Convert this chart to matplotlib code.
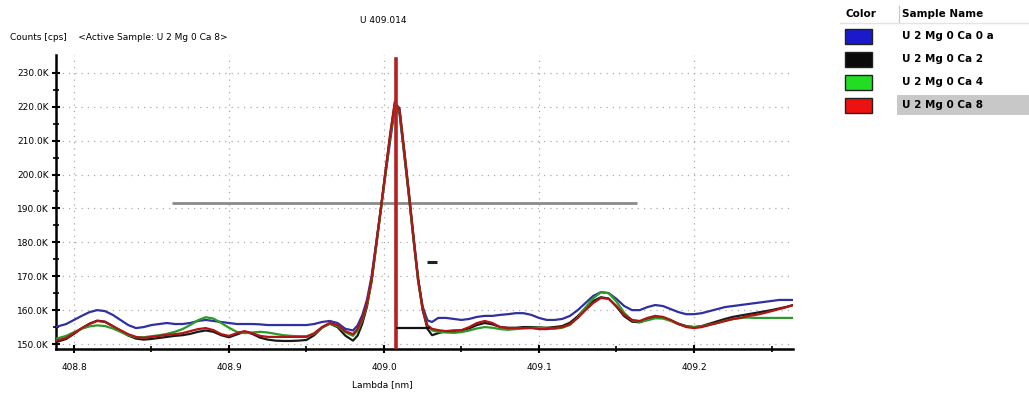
import numpy as np
import matplotlib.pyplot as plt
from matplotlib.patches import Rectangle

# wavelength grid (nm): baseline, peak region, baseline
lam = np.concatenate([[408.788], np.arange(408.795, 408.9801, 0.005),
                      np.arange(408.983, 409.0311, 0.003),
                      np.arange(409.035, 409.2601, 0.005), [409.264]])

# counts in K cps
blue = [155.0, 155.9, 157.1, 158.3, 159.4, 160.0, 159.7, 158.6, 157.1, 155.6,
        154.7, 155.0, 155.6, 155.9, 156.2, 155.9, 155.9, 156.2, 156.8, 157.1,
        156.8, 156.5, 156.2, 155.9, 155.9, 155.9, 155.8, 155.6, 155.6, 155.6,
        155.6, 155.6, 155.6, 155.9, 156.5, 156.8, 156.2, 154.5, 154.0,
        155.5, 158.5, 163, 170, 180, 190, 200, 210, 219.5, 218, 206, 194, 181, 169, 161, 157, 156.5,
        157.7, 157.7, 157.4, 157.1, 157.4, 158.0, 158.3, 158.3, 158.6, 158.8,
        159.1, 159.1, 158.6, 157.7, 157.1, 157.1, 157.4, 158.3, 160.0, 162.1,
        164.2, 165.3, 165.0, 163.3, 161.2, 160.0, 160.0, 160.9, 161.5, 161.2,
        160.3, 159.4, 158.8, 158.8, 159.1, 159.7, 160.3, 160.9, 161.2, 161.5,
        161.8, 162.1, 162.4, 162.7, 163.0, 163.0, 163.0]

black = [150.5, 151.5, 153.0, 154.6, 156.0, 156.9, 156.6, 155.3, 153.8, 152.5,
         151.6, 151.3, 151.5, 151.8, 152.1, 152.4, 152.6, 153.0, 153.6, 154.0,
         153.6, 152.6, 152.0, 152.8, 153.6, 153.0, 151.9, 151.3, 151.0, 150.9,
         150.9, 151.0, 151.2, 152.6, 154.8, 156.0, 155.0, 152.5, 151.0,
         152.5, 156.0, 161.0, 168.5, 179, 190, 201, 211.5, 221, 219.5, 207.5, 195, 182, 169.5, 160, 154.5, 152.6,
         153.2, 153.8, 154.0, 154.0, 154.6, 155.6, 156.2, 155.8, 155.0, 154.8,
         154.8, 155.0, 155.0, 154.9, 154.8, 155.0, 155.3, 156.3, 158.2, 160.6,
         162.7, 163.8, 163.4, 161.0, 158.2, 156.6, 156.4, 157.2, 157.9, 157.8,
         157.0, 156.0, 155.3, 155.0, 155.3, 156.0, 156.7, 157.4, 158.0, 158.4,
         158.8, 159.2, 159.6, 160.0, 160.5, 161.0, 161.5]

green = [151.5, 152.4, 153.5, 154.5, 155.2, 155.5, 155.3, 154.6, 153.6, 152.6,
         152.0, 152.0, 152.3, 152.6, 153.0, 153.6, 154.4, 155.6, 157.0, 157.9,
         157.5, 156.2, 154.8, 153.6, 153.2, 153.4, 153.6, 153.4, 153.0, 152.6,
         152.4, 152.3, 152.3, 153.0, 154.8, 156.0, 155.3, 153.5, 152.4,
         154.0, 157.0, 161.5, 168.5, 179, 189.5, 200.5, 211, 220.5, 218.5, 206.5, 194, 181, 168.5, 160, 155.5, 154.0,
         153.6, 153.4, 153.3, 153.5, 154.0, 154.6, 155.0, 154.8, 154.4, 154.2,
         154.4, 154.6, 154.8, 154.8, 154.6, 154.5, 154.8, 155.6, 157.8, 160.8,
         163.5, 165.3, 165.0, 162.5, 159.2, 157.0, 156.5, 157.0, 157.6, 157.5,
         156.8, 155.8, 155.2, 155.0, 155.2, 155.7, 156.2, 156.8, 157.3, 157.7,
         157.8, 157.7, 157.7, 157.7, 157.7, 157.7, 157.7]

red = [150.9, 151.8, 153.2, 154.7, 155.9, 156.8, 156.5, 155.3, 154.1, 152.9,
       152.1, 151.8, 152.1, 152.4, 152.7, 152.9, 153.2, 153.8, 154.4, 154.7,
       154.1, 152.9, 152.4, 153.2, 153.8, 153.2, 152.4, 152.1, 152.1, 152.1,
       152.1, 152.1, 152.1, 153.2, 155.0, 156.2, 155.6, 153.8, 152.9,
       154.5, 157.5, 162, 169, 179.5, 190, 201, 212, 221.5, 219, 207, 194.5, 181.5, 169, 160, 155.5, 154.5,
       154.1, 153.8, 153.8, 154.1, 155.0, 156.2, 156.8, 156.2, 155.0, 154.7,
       154.7, 154.7, 154.7, 154.4, 154.4, 154.7, 155.0, 155.9, 157.7, 160.0,
       162.1, 163.6, 163.3, 161.2, 158.6, 157.1, 156.8, 157.7, 158.3, 158.0,
       157.1, 155.9, 155.0, 154.7, 155.0, 155.6, 156.2, 156.8, 157.4, 157.7,
       158.3, 158.6, 159.1, 159.7, 160.3, 160.9, 161.5]

samples = ['U 2 Mg 0 Ca 0 a', 'U 2 Mg 0 Ca 2', 'U 2 Mg 0 Ca 4', 'U 2 Mg 0 Ca 8']
line_colors = ['#3030a0', '#1a1a1a', '#2a9a2a', '#b01515']
swatch_colors = ['#1a1acc', '#0a0a0a', '#22dd22', '#ee1111']

peak_pos = 409.008
bkg_level = 191.5
bkg_range = (408.863, 409.163)
base_level = 154.7
base_range = (409.008, 409.030)
mark_level = 174.2
mark_range = (409.028, 409.034)

yticks = [150, 160, 170, 180, 190, 200, 210, 220, 230]
xticks = [408.8, 408.9, 409.0, 409.1, 409.2]

fig = plt.figure(figsize=(10.29, 3.94), dpi=100)
ax = fig.add_axes([0.0544, 0.1142, 0.7163, 0.7462])
ax.set_xlim(408.7884, 409.2639)
ax.set_ylim(148.53, 235.25)

for ys, c in zip([blue, black, green, red], line_colors):
    ax.plot(lam, ys, color=c, lw=1.6, zorder=3)

ax.axvline(peak_pos, color='#b52020', lw=2.6, ymax=0.985, zorder=4)
ax.hlines(bkg_level, *bkg_range, color='#8a8a8a', lw=2, zorder=2)
ax.hlines(base_level, *base_range, color='#111111', lw=1.6, zorder=5)
ax.hlines(mark_level, *mark_range, color='#222222', lw=2.2, zorder=5)

ax.set_yticks(yticks)
ax.set_yticklabels(['{:.1f}K'.format(v) for v in yticks])
ax.set_yticks([v + 5 for v in yticks[:-1]], minor=True)
ax.set_xticks(xticks)
ax.set_xticklabels(['{:.1f}'.format(v) for v in xticks])
ax.set_xticks([v + 0.05 for v in xticks], minor=True)
ax.tick_params(which='major', direction='inout', length=6, width=1.5, labelsize=6.5, pad=2)
ax.tick_params(axis='x', which='major', pad=7)
ax.tick_params(which='minor', direction='inout', length=4, width=1.2)
ax.grid(True, which='major', color='#aaaaaa', ls=(0, (1, 4)), lw=0.9)
for s in ['top', 'right']:
    ax.spines[s].set_visible(False)
for s in ['left', 'bottom']:
    ax.spines[s].set_linewidth(1.8)

fig.text(0.372, 0.949, 'U 409.014', ha='center', va='center', fontsize=6.5)
fig.text(0.010, 0.904, 'Counts [cps]    <Active Sample: U 2 Mg 0 Ca 8>', ha='left', va='center', fontsize=6.5)
fig.text(0.372, 0.023, 'Lambda [nm]', ha='center', va='center', fontsize=6.5)

# sample table in pixel coordinates
tab = fig.add_axes([0, 0, 1, 1], zorder=-1)
tab.set_xlim(0, 1029)
tab.set_ylim(394, 0)
tab.axis('off')
tab.text(845, 14, 'Color', ha='left', va='center', fontsize=7.5, fontweight='bold')
tab.text(902, 14, 'Sample Name', ha='left', va='center', fontsize=7.5, fontweight='bold')
tab.plot([899, 899], [6, 22], color='#cccccc', lw=1)
tab.plot([840, 1029], [23, 23], color='#e4e4e4', lw=1)
for i, (name, c) in enumerate(zip(samples, swatch_colors)):
    yc = 36 + i * 23
    if i == 3:
        tab.add_patch(Rectangle((897, yc - 10), 132, 20, color='#c8c8c8', lw=0))
    tab.add_patch(Rectangle((845, yc - 7), 27, 15, facecolor=c, edgecolor='#222222', lw=1))
    tab.text(902, yc, name, ha='left', va='center', fontsize=7.5, fontweight='bold')

fig.savefig('out.png', dpi=100)
